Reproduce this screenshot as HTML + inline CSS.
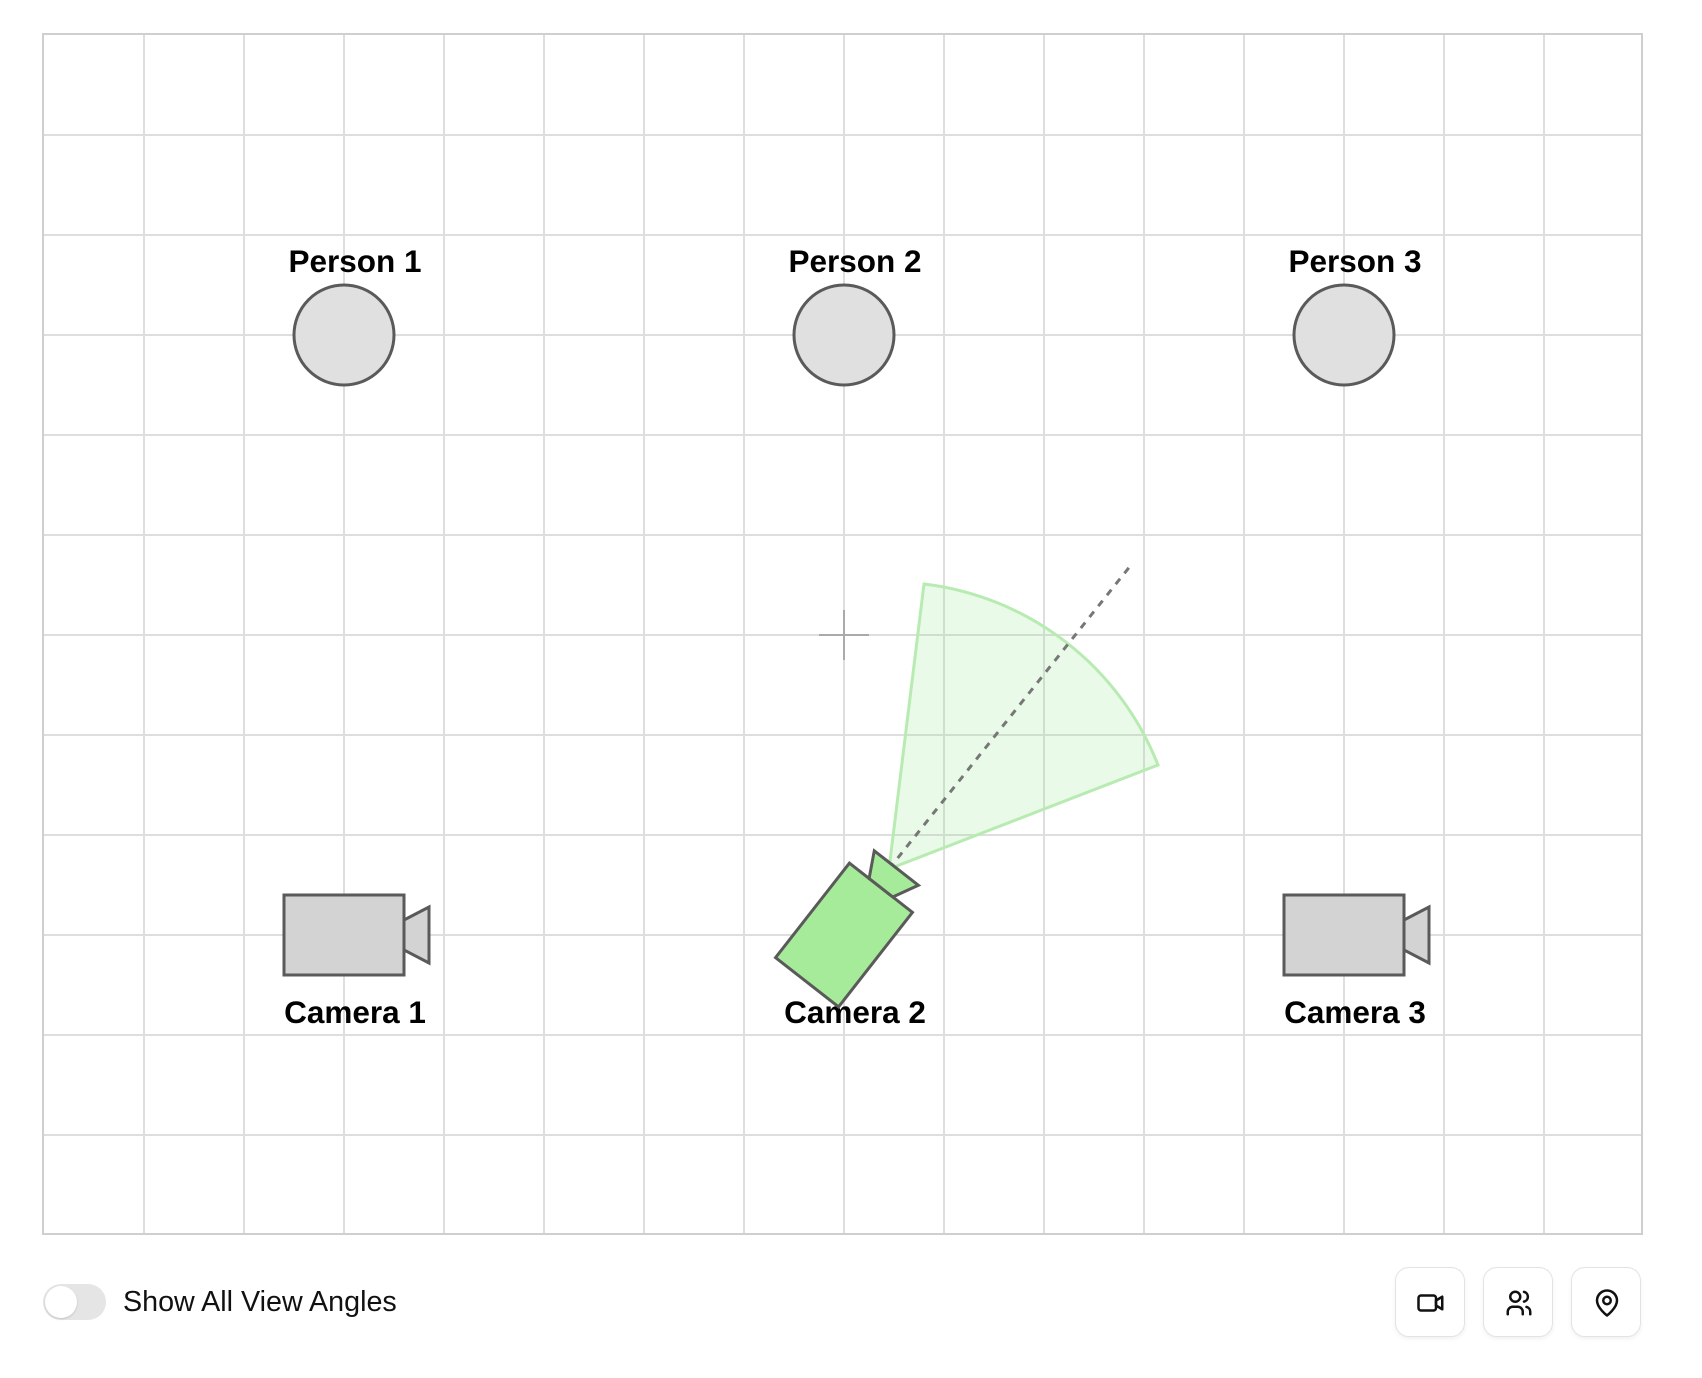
<!DOCTYPE html>
<html><head><meta charset="utf-8"><style>
html,body{margin:0;padding:0;background:#fff;width:1702px;height:1378px;overflow:hidden;font-family:"Liberation Sans",Arial,sans-serif}
.btn{position:absolute;top:1267px;width:68px;height:68px;border:1px solid #e3e3e3;border-radius:14px;background:#fff;box-shadow:0 2px 4px rgba(0,0,0,0.06)}
.btn svg{position:absolute;left:20px;top:20px}
</style></head><body>
<svg width="1702" height="1378" style="position:absolute;left:0;top:0">
<g transform="translate(44,35)">
<rect x="0" y="0" width="1597" height="1200" fill="#fff"/>
<g stroke="#dedede" stroke-width="2">
<line x1="100" y1="0" x2="100" y2="1200"/><line x1="200" y1="0" x2="200" y2="1200"/><line x1="300" y1="0" x2="300" y2="1200"/><line x1="400" y1="0" x2="400" y2="1200"/><line x1="500" y1="0" x2="500" y2="1200"/><line x1="600" y1="0" x2="600" y2="1200"/><line x1="700" y1="0" x2="700" y2="1200"/><line x1="800" y1="0" x2="800" y2="1200"/><line x1="900" y1="0" x2="900" y2="1200"/><line x1="1000" y1="0" x2="1000" y2="1200"/><line x1="1100" y1="0" x2="1100" y2="1200"/><line x1="1200" y1="0" x2="1200" y2="1200"/><line x1="1300" y1="0" x2="1300" y2="1200"/><line x1="1400" y1="0" x2="1400" y2="1200"/><line x1="1500" y1="0" x2="1500" y2="1200"/>
<line x1="0" y1="100" x2="1597" y2="100"/><line x1="0" y1="200" x2="1597" y2="200"/><line x1="0" y1="300" x2="1597" y2="300"/><line x1="0" y1="400" x2="1597" y2="400"/><line x1="0" y1="500" x2="1597" y2="500"/><line x1="0" y1="600" x2="1597" y2="600"/><line x1="0" y1="700" x2="1597" y2="700"/><line x1="0" y1="800" x2="1597" y2="800"/><line x1="0" y1="900" x2="1597" y2="900"/><line x1="0" y1="1000" x2="1597" y2="1000"/><line x1="0" y1="1100" x2="1597" y2="1100"/>
</g>
<rect x="-1" y="-1" width="1599" height="1200" fill="none" stroke="#cfcfcf" stroke-width="2"/>

<g fill="#e0e0e0" stroke="#5a5a5a" stroke-width="3">
<circle cx="300" cy="300" r="50"/><circle cx="800" cy="300" r="50"/><circle cx="1300" cy="300" r="50"/>
</g>
<g font-weight="bold" font-size="31.5" text-anchor="middle" fill="#000">
<text x="311" y="237">Person 1</text><text x="811" y="237">Person 2</text><text x="1311" y="237">Person 3</text>
<text x="311" y="988">Camera 1</text><text x="811" y="988">Camera 2</text><text x="1311" y="988">Camera 3</text>
</g>

<g stroke="#aaa" stroke-width="2"><line x1="775" y1="600" x2="825" y2="600"/><line x1="800" y1="575" x2="800" y2="625"/></g>

<path d="M845,834 L880,549 A288,288 0 0 1 1114,730 Z" fill="rgba(150,230,140,0.2)" stroke="#b8ebb2" stroke-width="3"/>
<line x1="845" y1="834" x2="1087" y2="530" stroke="#777" stroke-width="3" stroke-dasharray="7,7"/>

<g fill="#d3d3d3" stroke="#5a5a5a" stroke-width="3">
<rect x="240" y="860" width="120" height="80"/><polygon points="360,885 385,872 385,928 360,915"/>
<rect x="1240" y="860" width="120" height="80"/><polygon points="1360,885 1385,872 1385,928 1360,915"/>
</g>
<g fill="#a6eb99" stroke="#5a5a5a" stroke-width="3" transform="rotate(-52 800 900)">
<rect x="740" y="860" width="120" height="80"/><polygon points="860,885 885,872 885,928 860,915"/>
</g>
</g>
</svg>

<div style="position:absolute;left:43px;top:1284px;width:63px;height:36px;border-radius:18px;background:#e5e5e5"></div>
<div style="position:absolute;left:45px;top:1286px;width:32px;height:32px;border-radius:16px;background:#fff;box-shadow:0 1px 2px rgba(0,0,0,0.15)"></div>
<div style="position:absolute;left:123px;top:1285px;font-size:28.7px;color:#111;line-height:34px">Show All View Angles</div>

<div class="btn" style="left:1395px"><svg width="30" height="30" viewBox="0 0 24 24" fill="none" stroke="#111" stroke-width="2" stroke-linecap="round" stroke-linejoin="round"><rect x="2" y="6" width="14" height="12" rx="2"/><path d="M16 10l5-3v10l-5-3z"/></svg></div>
<div class="btn" style="left:1483px"><svg width="30" height="30" viewBox="0 0 24 24" fill="none" stroke="#111" stroke-width="2" stroke-linecap="round" stroke-linejoin="round"><circle cx="9" cy="7" r="4"/><path d="M3 21v-2a4 4 0 0 1 4-4h4a4 4 0 0 1 4 4v2"/><path d="M16 3.1a4 4 0 0 1 0 7.8"/><path d="M21 21v-2a4 4 0 0 0-3-3.9"/></svg></div>
<div class="btn" style="left:1571px"><svg width="30" height="30" viewBox="0 0 24 24" fill="none" stroke="#111" stroke-width="2" stroke-linecap="round" stroke-linejoin="round"><path d="M20 10c0 6-8 12-8 12s-8-6-8-12a8 8 0 0 1 16 0z"/><circle cx="12" cy="10" r="3"/></svg></div>
</body></html>
